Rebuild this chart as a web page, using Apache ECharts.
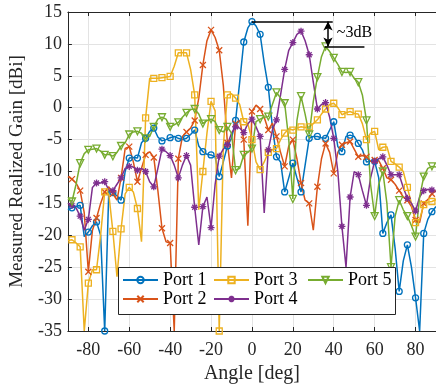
<!DOCTYPE html>
<html>
<head>
<meta charset="utf-8">
<script src="https://cdn.jsdelivr.net/npm/echarts@6/dist/echarts.min.js"></script>
<style>
html,body{margin:0;padding:0;background:#fff;}
#chart{width:436px;height:390px;}
</style>
</head>
<body>
<div id="chart"></div>
<script>
// Angles (deg), 2-degree steps
const angles = [-90,-88,-86,-84,-82,-80,-78,-76,-74,-72,-70,-68,-66,-64,-62,-60,-58,-56,-54,-52,-50,-48,-46,-44,-42,-40,-38,-36,-34,-32,-30,-28,-26,-24,-22,-20,-18,-16,-14,-12,-10,-8,-6,-4,-2,0,2,4,6,8,10,12,14,16,18,20,22,24,26,28,30,32,34,36,38,40,42,44,46,48,50,52,54,56,58,60,62,64,66,68,70,72,74,76,78,80,82,84,86,88,90];

const port1 = [-16,-15.7,-15.5,-15.3,-20.2,-19.5,-18.5,-17.9,-20,-35,-13,-13.3,-13.8,-14.5,-10,-7.9,-7.8,-7.9,-5.5,-4.8,-3.7,-3.2,-4.6,-5.2,-5,-4.7,-4.5,-4.8,-5,-4.8,-4.2,-3.5,-6,-6.9,-7.3,-7.4,-7.7,-10.8,-8.5,-6,-4.8,-2,4,10.3,12.5,13.5,12.8,11.5,7,3.2,-3,-7.7,-8.5,-13.2,-11,-8.7,-11,-13.2,-9,-4.8,-4.5,-4.5,-4.7,-4.8,-3.5,-2.2,-6.1,-6.9,-4.5,-4.3,-4.5,-5.6,-6.6,-8.5,-8.4,-8.4,-11,-19.7,-18,-16.8,-22,-28.8,-24,-21.5,-25,-29.8,-35,-19.7,-17.5,-16.3,-15.5];

const port2 = [-10.8,-11.2,-11.8,-13,-16.5,-25.7,-19.2,-17.3,-15,-13.2,-12.4,-13.5,-14.5,-11,-6.4,-6.1,-8.5,-11.6,-9.5,-7.4,-6.9,-7.8,-13,-18.9,-21,-21.2,-35,-8,-4.5,-3.8,-3.2,-2,1.5,6.7,10.5,12.2,11,9,3.5,-5.5,-11,-2.5,-2,-5,-18.5,-0.6,0.4,-0.2,-1.5,-3.5,-2.4,-4.5,-7,-9.2,-6,-5,-8,-11.8,-14.5,-15,-19.2,-12.4,-8,-5.6,-7,-10.3,-7,-5.8,-5.5,-5.3,-6.5,-7.7,-7.5,-7.7,-8.4,-8.2,-8.3,-9.5,-11,-11.3,-12,-13,-14,-14.5,-15.5,-17.6,-18,-15,-14.4,-13.5,-13];

const port3 = [-20.8,-20.7,-21.2,-21.8,-35,-27.5,-25.4,-25.4,-20,-13.2,-13.5,-19.4,-26.5,-19,-13.5,-12.5,-13.2,-15.8,-21,-1.6,4.6,4.6,4.6,4.7,4.8,4.9,6.5,8.6,8.6,8.6,6,2,-16,-10,-4,1,-0.5,-35,-6,2,2.2,1.5,0.5,-2.2,-2.5,-5,-8.5,-9.7,-8.5,-7,-6.6,-6.4,-5,-4,-3.3,-3.5,-3.2,-3,-3.1,-3,-2.5,-1.9,-1,-0.2,0.5,0.7,0,-1.1,-0.8,-0.6,-0.9,-1,-2.5,-5,-4,-3.7,-6.6,-6.2,-6.1,-8.4,-8.8,-9.3,-10,-12.5,-15,-18,-17.5,-15.2,-14.8,-14.7,-14.4];

const port4 = [-15,-15.3,-15.7,-17,-19.2,-17.5,-12.5,-11.8,-11.8,-11.6,-12.9,-13,-12,-11,-9.5,-9.2,-9.3,-9.8,-9.5,-10,-11.6,-12.4,-9.5,-6.5,-6.9,-7.5,-9,-11,-9,-7.5,-9,-15.6,-21.5,-15.5,-14,-18.8,-12,-7.6,-6.5,-5.8,-4,-3,-3.2,-3.9,-2.5,-1.8,-3,-4.5,-16.5,-6.6,-3.5,-1.9,2,6,9,10.2,11.5,12,10.5,8.3,4,-0.2,0.5,0.8,-1.5,-4.8,-10,-18.6,-25,-14,-10,-10.5,-13,-15.3,-11,-8.4,-8,-7.7,-9,-10.5,-10.5,-10.5,-12.5,-14.2,-15,-16.2,-14,-13,-12.8,-12.9,-13.2];

const port5 = [-14.3,-14.7,-12,-8.7,-7.2,-6.6,-6.5,-6.4,-6.8,-7.4,-7.3,-7.6,-7,-6,-5.5,-4.2,-3.8,-3.7,-4,-4.8,-4.5,-3,-1.8,-1.5,-1.8,-3,-2.7,-2.3,-1.5,-0.8,-0.3,-0.2,-1,-2.5,-2,-1.8,-2.2,-3.5,-3.8,-3,-4,-9.8,-9.5,-7.4,-7,-6.4,-2.2,-1.8,-1.5,-1.4,0.5,2.4,1.5,0.7,-5,-14.3,-2,1.8,-1,-4.2,1,4.8,8,9.6,8.8,7.8,6.8,5.6,5.5,5.6,4.6,4,2,-2,-12,-17,-12,-10,-15,-25,-17,-14.5,-16,-17,-18.5,-20.2,-14,-10.8,-9.5,-9.2,-9.3];

const seriesNames = ['Port 1','Port 2','Port 3','Port 4','Port 5'];
const seriesValues = [port1, port2, port3, port4, port5];
const xTickLabels = ['-80','-60','-40','-20','0','20','40','60','80'];
const yTickLabels = ['-35','-30','-25','-20','-15','-10','-5','0','5','10','15'];
const peakGain = 13.5, secondGain = 9.6;

const colors = ['#0072BD','#D95319','#EDB120','#7E2F8E','#77AC30'];
const symbols = [
  'path://M10,5A5,5,0,1,1,0,5A5,5,0,1,1,10,5Z',
  'path://M0,0L10,10M10,0L0,10',
  'path://M0,0L10,0L10,10L0,10Z',
  'path://M5,0L5,10M0,5L10,5M1.5,1.5L8.5,8.5M8.5,1.5L1.5,8.5',
  'path://M0,0L10,0L5,8.66Z'
];
const symSizes = [6, 6, 6, 7, 7];
const FONT = 'Liberation Serif';

function buildData(vals){
  return angles.map((a,i) => a % 4 === 0 ? [a, vals[i]] : {value:[a, vals[i]], symbol:'none'});
}

const series = seriesNames.map((n, k) => ({
  name: n, type: 'line', data: buildData(seriesValues[k]),
  symbol: symbols[k], symbolSize: symSizes[k], showAllSymbol: true,
  lineStyle: {color: colors[k], width: 1.5},
  itemStyle: {color: 'rgba(255,255,255,0)', borderColor: colors[k], borderWidth: 1.3},
  emphasis: {disabled: true}, animation: false
}));

series[0].markLine = {
  silent: true, animation: false,
  label: {show: false},
  lineStyle: {color: '#000', width: 1.5, type: 'solid'},
  symbolSize: [7, 9],
  data: [
    [{coord:[0, peakGain], symbol:'none'}, {coord:[39.5, peakGain], symbol:'none'}],
    [{coord:[35.5, secondGain], symbol:'none'}, {coord:[55, secondGain], symbol:'none'}],
    [{coord:[37.2, peakGain], symbol:'arrow'}, {coord:[37.2, secondGain], symbol:'arrow'}]
  ]
};
series[0].markPoint = {
  silent: true, animation: false,
  symbol: 'circle', symbolSize: 0,
  data: [{coord:[39.5, 11.7]}],
  label: {show: true, position: 'right', distance: 4, formatter: '~3dB', color: '#000', fontFamily: FONT, fontSize: 16}
};

const legendPos = [[122,271],[122,290],[213,271],[213,290],[307,271]];
const legends = seriesNames.map((n,k) => ({
  data: [n], left: legendPos[k][0], top: legendPos[k][1], padding: 0,
  itemWidth: 35, itemHeight: 8, itemGap: 4, z: 8,
  textStyle: {fontFamily: FONT, fontSize: 18, color: '#000', padding: [0,0,0,0]},
  selectedMode: false
}));

const axisTxt = {fontFamily: FONT, fontSize: 18, color: '#262626'};

const option = {
  backgroundColor: '#fff',
  animation: false,
  grid: {left: 65, top: 12, width: 372, height: 319},
  legend: legends,
  graphic: [{
    type: 'rect', left: 118, top: 267, z: 6,
    shape: {width: 277, height: 47},
    style: {fill: '#fff', stroke: '#262626', lineWidth: 1}
  }],
  xAxis: [{
    type: 'value', min: -90, max: 90, splitNumber: 9,
    name: 'Angle [deg]', nameLocation: 'middle', nameGap: 31,
    nameTextStyle: {fontFamily: FONT, fontSize: 20, color: '#262626'},
    axisLine: {show: true, onZero: false, lineStyle: {color: '#262626', width: 1}},
    axisTick: {show: true, inside: true, length: 4, lineStyle: {color: '#262626'}},
    axisLabel: Object.assign({margin: 10, showMinLabel: false, showMaxLabel: false,
      formatter: v => xTickLabels.indexOf(String(v)) >= 0 ? String(v) : ''}, axisTxt),
    splitLine: {show: true, lineStyle: {color: '#e3e3e3', width: 1}}
  },{
    type: 'value', min: -90, max: 90, splitNumber: 9, position: 'top',
    axisLine: {show: true, onZero: false, lineStyle: {color: '#262626', width: 1}},
    axisTick: {show: true, inside: true, length: 4, lineStyle: {color: '#262626'}},
    axisLabel: {show: false}, splitLine: {show: false}
  }],
  yAxis: [{
    type: 'value', min: -35, max: 15, interval: 5,
    name: 'Measured Realized Gain [dBi]', nameLocation: 'middle', nameGap: 35,
    nameTextStyle: {fontFamily: FONT, fontSize: 19, color: '#262626'},
    axisLine: {show: true, onZero: false, lineStyle: {color: '#262626', width: 1}},
    axisTick: {show: true, inside: true, length: 4, lineStyle: {color: '#262626'}},
    axisLabel: Object.assign({margin: 6,
      formatter: v => yTickLabels.indexOf(String(v)) >= 0 ? String(v) : ''}, axisTxt),
    splitLine: {show: true, lineStyle: {color: '#e3e3e3', width: 1}}
  }],
  series: series
};

const chart = echarts.init(document.getElementById('chart'), null, {renderer: 'canvas'});
chart.setOption(option);
</script>
</body>
</html>
